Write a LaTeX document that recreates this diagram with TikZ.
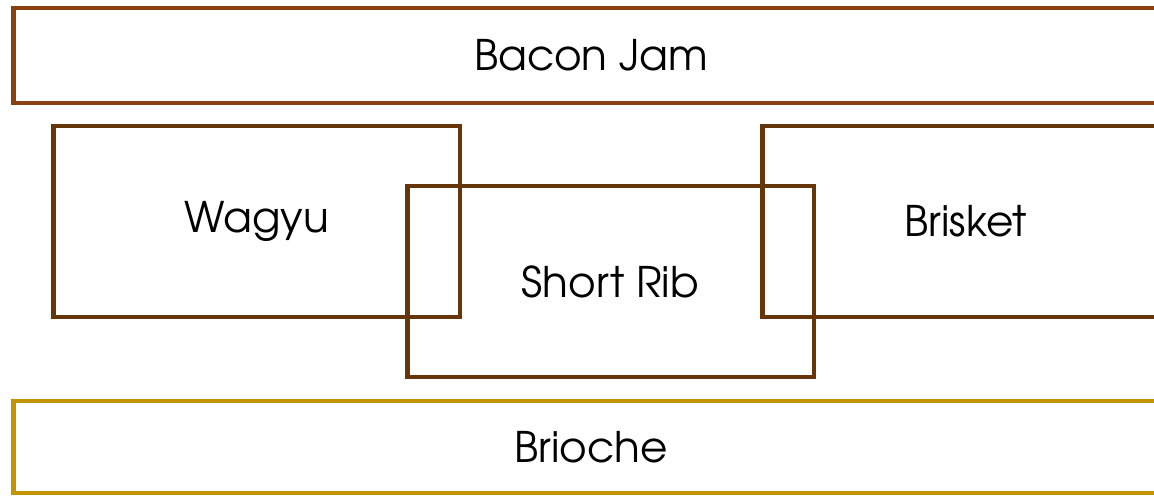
\documentclass[tikz,border=0pt]{standalone}
\usepackage{fontspec}
\setmainfont{TeX Gyre Adventor}
\definecolor{jamcol}{RGB}{139,65,15}
\definecolor{meatcol}{RGB}{102,54,10}
\definecolor{buncol}{RGB}{196,148,0}
\tikzset{
	layer/.style={draw, line width=2.8pt, minimum height=1.84cm, minimum width=23.12cm, font=\fontsize{24}{28}\selectfont},
	meat/.style={draw=meatcol, line width=2.8pt, minimum width=8.14cm, minimum height=3.82cm, font=\fontsize{24}{28}\selectfont}
}
\begin{document}
\begin{tikzpicture}[x=0.02cm, y=-0.02cm]
			\useasboundingbox (0,0) rectangle (1154,495);
			\clip (0,0) rectangle (1154,495);
			% top and bottom layers
			\node[layer, draw=jamcol, minimum height=1.90cm] (jam) at (591,55.5) {Bacon Jam};
			\node[layer, draw=buncol] (bun) at (591,447) {Brioche};
			
			% the meats
			\node[meat] (wagyu) at (256.5,221.5) {Wagyu};
			\node[meat] (rib) at (610.5,281.5) {Short Rib};
			\node[meat] (brisket) at (965.5,221.5) {Brisket};
		\end{tikzpicture}
\end{document}
